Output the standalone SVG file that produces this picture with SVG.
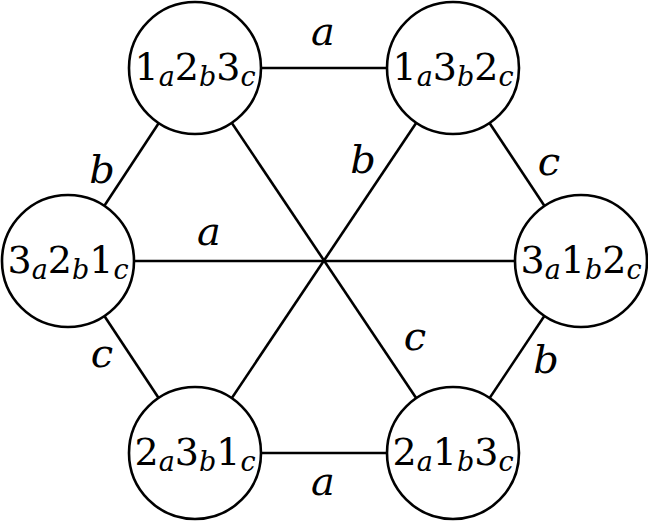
<svg xmlns="http://www.w3.org/2000/svg" width="648" height="522" viewBox="0 0 648 522">
<style>
.edge{stroke:#000;stroke-width:2.6;fill:none}
.node{fill:#fff;stroke:#000;stroke-width:2.6}
.nt{font-family:"DejaVu Serif","Liberation Serif",serif;font-size:38px;text-anchor:middle;fill:#000}
.sub{font-style:italic;font-size:27px}
.lbl{font-family:"DejaVu Serif","Liberation Serif",serif;font-style:italic;font-size:40px;text-anchor:middle;fill:#000}
</style>
<rect width="648" height="522" fill="#fff"/>
<g id="connectors">
<line class="edge" x1="195" y1="68" x2="453" y2="68"/>
<line class="edge" x1="195" y1="453" x2="453" y2="453"/>
<line class="edge" x1="68" y1="261" x2="581" y2="261"/>
<line class="edge" x1="195" y1="68" x2="68" y2="261"/>
<line class="edge" x1="68" y1="261" x2="195" y2="453"/>
<line class="edge" x1="453" y1="68" x2="581" y2="261"/>
<line class="edge" x1="581" y1="261" x2="453" y2="453"/>
<line class="edge" x1="195" y1="68" x2="453" y2="453"/>
<line class="edge" x1="453" y1="68" x2="195" y2="453"/>
</g>
<g id="labels">
<text class="lbl" x="323" y="45">a</text>
<text class="lbl" x="102" y="183">b</text>
<text class="lbl" x="549" y="175">c</text>
<text class="lbl" x="209" y="245">a</text>
<text class="lbl" x="363" y="173">b</text>
<text class="lbl" x="415" y="350">c</text>
<text class="lbl" x="102" y="367">c</text>
<text class="lbl" x="546" y="373">b</text>
<text class="lbl" x="323" y="495">a</text>
</g>
<g id="n123">
<circle class="node" cx="195" cy="68" r="66"/>
<text class="nt" x="195" y="80">1<tspan class="sub" dy="6">a</tspan><tspan dy="-6">2</tspan><tspan class="sub" dy="6">b</tspan><tspan dy="-6">3</tspan><tspan class="sub" dy="6">c</tspan></text>
</g>
<g id="n132">
<circle class="node" cx="453" cy="68" r="66"/>
<text class="nt" x="453" y="80">1<tspan class="sub" dy="6">a</tspan><tspan dy="-6">3</tspan><tspan class="sub" dy="6">b</tspan><tspan dy="-6">2</tspan><tspan class="sub" dy="6">c</tspan></text>
</g>
<g id="n321">
<circle class="node" cx="68" cy="261" r="66"/>
<text class="nt" x="68" y="273">3<tspan class="sub" dy="6">a</tspan><tspan dy="-6">2</tspan><tspan class="sub" dy="6">b</tspan><tspan dy="-6">1</tspan><tspan class="sub" dy="6">c</tspan></text>
</g>
<g id="n312">
<circle class="node" cx="581" cy="261" r="66"/>
<text class="nt" x="581" y="273">3<tspan class="sub" dy="6">a</tspan><tspan dy="-6">1</tspan><tspan class="sub" dy="6">b</tspan><tspan dy="-6">2</tspan><tspan class="sub" dy="6">c</tspan></text>
</g>
<g id="n231">
<circle class="node" cx="195" cy="453" r="66"/>
<text class="nt" x="195" y="465">2<tspan class="sub" dy="6">a</tspan><tspan dy="-6">3</tspan><tspan class="sub" dy="6">b</tspan><tspan dy="-6">1</tspan><tspan class="sub" dy="6">c</tspan></text>
</g>
<g id="n213">
<circle class="node" cx="453" cy="453" r="66"/>
<text class="nt" x="453" y="465">2<tspan class="sub" dy="6">a</tspan><tspan dy="-6">1</tspan><tspan class="sub" dy="6">b</tspan><tspan dy="-6">3</tspan><tspan class="sub" dy="6">c</tspan></text>
</g>
</svg>
